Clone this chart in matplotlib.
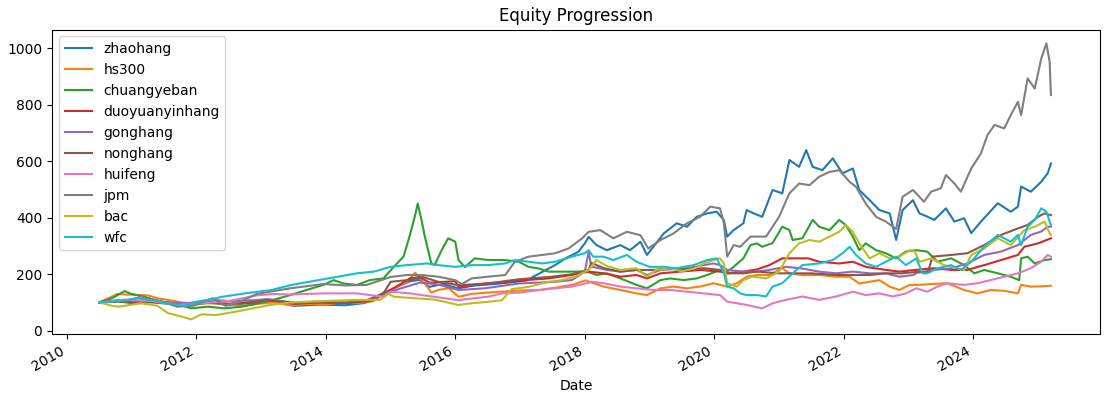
import matplotlib
matplotlib.use("Agg")
import matplotlib.pyplot as plt
import matplotlib.dates as mdates
import pandas as pd
import numpy as np

# ---- data (decimal year, value) ----
zhaohang_t = [2010.5, 2010.8, 2011.0, 2011.3, 2011.6, 2011.9, 2012.2, 2012.5, 2012.9, 2013.1, 2013.5, 2013.9, 2014.3, 2014.6, 2014.9, 2015.3, 2015.45, 2015.6, 2015.8, 2016.05, 2016.3, 2016.6, 2016.9, 2017.1, 2017.39, 2017.54, 2017.7, 2017.9, 2018.0, 2018.06, 2018.18, 2018.34, 2018.55, 2018.7, 2018.86, 2018.96, 2019.06, 2019.22, 2019.42, 2019.58, 2019.73, 2019.89, 2020.04, 2020.15, 2020.2, 2020.3, 2020.45, 2020.5, 2020.61, 2020.74, 2020.9, 2021.05, 2021.16, 2021.31, 2021.42, 2021.52, 2021.67, 2021.83, 2021.98, 2022.14, 2022.24, 2022.4, 2022.55, 2022.71, 2022.81, 2022.91, 2023.07, 2023.17, 2023.24, 2023.4, 2023.58, 2023.71, 2023.86, 2023.97, 2024.12, 2024.38, 2024.58, 2024.69, 2024.74, 2024.89, 2025.05, 2025.15, 2025.2]
zhaohang_v = [100, 105, 100, 105, 95, 90, 100, 90, 100, 108, 88, 92, 90, 98, 135, 175, 180, 155, 165, 150, 160, 165, 172, 178, 214, 232, 256, 279, 309, 332, 303, 285, 303, 285, 315, 268, 297, 344, 380, 368, 403, 415, 421, 391, 333, 356, 380, 427, 415, 403, 498, 486, 604, 580, 639, 580, 568, 610, 557, 574, 498, 462, 427, 415, 321, 427, 462, 415, 409, 392, 433, 386, 398, 345, 386, 451, 421, 439, 510, 492, 527, 557, 592]

hs300_t = [2010.5, 2010.78, 2010.89, 2011.25, 2011.4, 2011.66, 2011.92, 2012.18, 2012.45, 2012.7, 2012.95, 2013.2, 2013.45, 2013.7, 2014.0, 2014.22, 2014.5, 2014.74, 2014.94, 2015.25, 2015.38, 2015.53, 2015.63, 2015.75, 2015.9, 2016.05, 2016.25, 2016.5, 2016.98, 2017.29, 2017.54, 2017.8, 2018.01, 2018.29, 2018.55, 2018.8, 2018.96, 2019.17, 2019.37, 2019.58, 2019.78, 2019.99, 2020.2, 2020.35, 2020.5, 2020.66, 2020.85, 2021.05, 2021.16, 2021.36, 2021.62, 2021.88, 2022.09, 2022.24, 2022.4, 2022.55, 2022.71, 2022.86, 2023.02, 2023.14, 2023.35, 2023.6, 2023.86, 2024.07, 2024.27, 2024.48, 2024.69, 2024.74, 2024.89, 2025.05, 2025.2]
hs300_v = [100, 130, 128, 125, 115, 105, 92, 97, 95, 88, 95, 100, 90, 95, 92, 100, 98, 105, 138, 173, 205, 167, 135, 145, 150, 120, 130, 135, 142, 144, 152, 162, 178, 156, 144, 132, 126, 150, 156, 150, 156, 168, 156, 168, 191, 197, 197, 221, 203, 197, 197, 191, 191, 167, 173, 179, 156, 144, 162, 162, 165, 168, 144, 132, 144, 141, 132, 162, 156, 157, 159]

chuangyeban_t = [2010.5, 2010.7, 2010.89, 2011.0, 2011.2, 2011.4, 2011.66, 2011.92, 2012.18, 2012.43, 2012.7, 2012.93, 2013.2, 2013.45, 2013.7, 2013.96, 2014.12, 2014.27, 2014.48, 2014.68, 2014.89, 2015.05, 2015.2, 2015.3, 2015.38, 2015.42, 2015.48, 2015.53, 2015.58, 2015.63, 2015.68, 2015.79, 2015.89, 2016.0, 2016.05, 2016.15, 2016.3, 2016.51, 2016.77, 2016.98, 2017.13, 2017.29, 2017.44, 2017.65, 2017.85, 2018.03, 2018.18, 2018.34, 2018.55, 2018.8, 2018.96, 2019.17, 2019.32, 2019.53, 2019.73, 2019.89, 2020.09, 2020.2, 2020.3, 2020.45, 2020.56, 2020.66, 2020.74, 2020.9, 2021.05, 2021.16, 2021.21, 2021.36, 2021.52, 2021.62, 2021.78, 2021.93, 2022.03, 2022.14, 2022.24, 2022.34, 2022.5, 2022.65, 2022.81, 2022.96, 2023.12, 2023.29, 2023.45, 2023.66, 2023.86, 2024.02, 2024.17, 2024.38, 2024.58, 2024.71, 2024.74, 2024.84, 2024.95, 2025.1, 2025.2]
chuangyeban_v = [100, 115, 140, 130, 120, 105, 97, 79, 85, 79, 85, 95, 110, 126, 144, 162, 179, 167, 162, 179, 185, 226, 262, 339, 409, 450, 390, 333, 285, 238, 232, 285, 327, 315, 250, 225, 256, 250, 250, 244, 226, 220, 209, 209, 209, 210, 197, 203, 185, 162, 150, 179, 185, 179, 185, 197, 215, 209, 226, 256, 303, 309, 297, 310, 368, 356, 321, 327, 392, 368, 356, 392, 374, 333, 285, 309, 285, 274, 256, 280, 285, 280, 244, 256, 232, 203, 215, 203, 191, 179, 256, 262, 238, 250, 253]

duoyuanyinhang_t = [2010.5, 2010.8, 2011.0, 2011.3, 2011.6, 2011.9, 2012.2, 2012.5, 2012.9, 2013.1, 2013.5, 2013.9, 2014.3, 2014.7, 2015.0, 2015.3, 2015.45, 2015.6, 2016.0, 2016.05, 2016.25, 2016.46, 2016.98, 2017.44, 2017.8, 2018.06, 2018.3, 2018.55, 2018.8, 2018.96, 2019.17, 2019.47, 2019.78, 2020.09, 2020.2, 2020.45, 2020.66, 2020.85, 2021.05, 2021.26, 2021.45, 2021.62, 2021.93, 2022.14, 2022.34, 2022.65, 2022.86, 2023.1, 2023.4, 2023.66, 2023.91, 2024.17, 2024.43, 2024.69, 2024.79, 2025.0, 2025.2]
duoyuanyinhang_v = [100, 108, 100, 105, 98, 92, 100, 95, 100, 110, 95, 100, 98, 105, 144, 185, 190, 170, 175, 156, 161, 167, 177, 185, 197, 209, 203, 191, 197, 185, 203, 209, 215, 209, 203, 209, 217, 232, 256, 256, 256, 244, 238, 244, 226, 215, 209, 215, 221, 215, 215, 232, 250, 268, 297, 309, 327]

gonghang_t = [2010.5, 2010.8, 2011.0, 2011.3, 2011.6, 2011.9, 2012.2, 2012.5, 2012.9, 2013.1, 2013.5, 2013.9, 2014.3, 2014.7, 2015.0, 2015.25, 2015.45, 2015.7, 2016.05, 2016.46, 2016.98, 2017.54, 2017.8, 2018.0, 2018.06, 2018.1, 2018.34, 2018.55, 2018.8, 2018.96, 2019.17, 2019.58, 2019.84, 2019.99, 2020.09, 2020.2, 2020.45, 2020.66, 2020.85, 2021.1, 2021.36, 2021.62, 2021.88, 2022.14, 2022.4, 2022.65, 2022.86, 2023.07, 2023.14, 2023.4, 2023.66, 2023.91, 2024.17, 2024.43, 2024.69, 2024.89, 2025.05, 2025.15, 2025.2]
gonghang_v = [100, 105, 100, 103, 100, 98, 110, 105, 108, 112, 100, 103, 100, 110, 138, 156, 170, 165, 144, 150, 167, 173, 179, 209, 279, 227, 215, 209, 215, 197, 215, 221, 232, 238, 232, 215, 209, 209, 215, 226, 220, 209, 203, 209, 203, 203, 191, 197, 205, 215, 221, 238, 268, 280, 303, 339, 351, 368, 368]

nonghang_t = [2010.5, 2010.8, 2011.0, 2011.3, 2011.6, 2011.9, 2012.2, 2012.5, 2012.9, 2013.1, 2013.5, 2013.9, 2014.3, 2014.6, 2014.89, 2015.0, 2015.3, 2015.5, 2015.74, 2016.05, 2016.5, 2016.98, 2017.5, 2017.8, 2018.06, 2018.1, 2018.3, 2018.55, 2018.8, 2019.06, 2019.32, 2019.6, 2019.84, 2020.09, 2020.2, 2020.45, 2020.66, 2021.0, 2021.5, 2021.88, 2022.14, 2022.4, 2022.65, 2022.9, 2023.17, 2023.3, 2023.37, 2023.66, 2023.91, 2024.17, 2024.43, 2024.69, 2024.84, 2025.0, 2025.1, 2025.2]
nonghang_v = [100, 103, 98, 100, 95, 92, 100, 95, 102, 108, 98, 100, 98, 105, 132, 173, 180, 190, 173, 161, 167, 182, 191, 200, 215, 240, 221, 209, 215, 215, 221, 218, 221, 215, 203, 203, 209, 203, 203, 197, 197, 197, 203, 203, 209, 205, 262, 268, 274, 303, 339, 362, 374, 403, 415, 409]

huifeng_t = [2010.5, 2010.9, 2011.3, 2011.7, 2012.0, 2012.5, 2012.93, 2013.2, 2013.45, 2013.96, 2014.48, 2014.9, 2015.0, 2015.3, 2015.68, 2016.05, 2016.3, 2016.5, 2016.72, 2017.0, 2017.3, 2017.54, 2017.8, 2018.01, 2018.11, 2018.29, 2018.55, 2018.8, 2019.06, 2019.32, 2019.58, 2019.84, 2020.09, 2020.2, 2020.35, 2020.5, 2020.74, 2020.9, 2021.1, 2021.36, 2021.62, 2021.88, 2022.14, 2022.34, 2022.55, 2022.76, 2022.96, 2023.12, 2023.29, 2023.45, 2023.6, 2023.86, 2024.07, 2024.27, 2024.48, 2024.69, 2024.89, 2025.05, 2025.15, 2025.2]
huifeng_v = [100, 110, 105, 92, 95, 105, 125, 130, 128, 132, 132, 120, 138, 132, 120, 108, 115, 120, 132, 135, 144, 150, 156, 167, 173, 168, 156, 150, 144, 144, 138, 132, 126, 103, 97, 91, 79, 97, 109, 121, 109, 121, 138, 126, 132, 121, 132, 150, 138, 156, 168, 162, 168, 179, 191, 203, 221, 244, 268, 262]

jpm_t = [2010.5, 2010.9, 2011.15, 2011.45, 2011.7, 2011.95, 2012.25, 2012.45, 2012.7, 2012.93, 2013.45, 2013.96, 2014.3, 2014.63, 2015.0, 2015.25, 2015.48, 2015.74, 2016.0, 2016.1, 2016.25, 2016.5, 2016.77, 2016.92, 2017.13, 2017.34, 2017.54, 2017.75, 2017.96, 2018.06, 2018.24, 2018.44, 2018.65, 2018.86, 2018.98, 2019.17, 2019.37, 2019.58, 2019.78, 2019.94, 2020.09, 2020.15, 2020.2, 2020.3, 2020.4, 2020.56, 2020.8, 2021.0, 2021.16, 2021.31, 2021.47, 2021.62, 2021.78, 2021.93, 2022.09, 2022.19, 2022.34, 2022.5, 2022.65, 2022.81, 2022.91, 2023.07, 2023.17, 2023.24, 2023.35, 2023.5, 2023.58, 2023.71, 2023.81, 2023.97, 2024.12, 2024.22, 2024.33, 2024.48, 2024.58, 2024.69, 2024.74, 2024.84, 2024.95, 2025.05, 2025.13, 2025.18, 2025.2]
jpm_v = [100, 105, 120, 105, 85, 88, 115, 88, 105, 130, 150, 165, 160, 162, 190, 197, 197, 191, 179, 165, 185, 191, 197, 244, 262, 268, 274, 291, 327, 350, 356, 327, 350, 338, 291, 321, 344, 380, 403, 439, 433, 380, 262, 303, 297, 333, 333, 403, 486, 521, 515, 545, 562, 568, 527, 509, 450, 403, 386, 360, 474, 498, 474, 456, 492, 504, 551, 521, 492, 574, 627, 692, 728, 716, 763, 810, 763, 893, 857, 963, 1017, 952, 834]

bac_t = [2010.5, 2010.7, 2010.8, 2011.15, 2011.4, 2011.56, 2011.77, 2011.92, 2012.08, 2012.3, 2012.6, 2012.85, 2013.16, 2013.47, 2013.96, 2014.48, 2014.84, 2014.96, 2015.06, 2015.43, 2015.68, 2016.05, 2016.25, 2016.5, 2016.72, 2016.87, 2017.13, 2017.44, 2017.65, 2017.85, 2018.06, 2018.18, 2018.34, 2018.55, 2018.8, 2018.96, 2019.1, 2019.32, 2019.5, 2019.7, 2019.84, 2019.99, 2020.09, 2020.15, 2020.2, 2020.35, 2020.45, 2020.59, 2020.8, 2021.0, 2021.16, 2021.31, 2021.47, 2021.62, 2021.78, 2021.93, 2022.03, 2022.14, 2022.24, 2022.4, 2022.55, 2022.71, 2022.86, 2023.02, 2023.1, 2023.17, 2023.35, 2023.55, 2023.76, 2023.86, 2023.97, 2024.17, 2024.38, 2024.58, 2024.79, 2024.95, 2025.1, 2025.18, 2025.2]
bac_v = [100, 88, 85, 97, 88, 62, 50, 40, 58, 55, 67, 78, 92, 100, 105, 109, 109, 130, 120, 114, 110, 91, 97, 102, 108, 147, 155, 173, 179, 191, 215, 250, 229, 215, 221, 191, 215, 221, 210, 221, 238, 250, 256, 238, 168, 156, 179, 191, 185, 209, 274, 309, 321, 315, 333, 350, 374, 350, 309, 256, 274, 256, 262, 285, 280, 244, 256, 232, 221, 215, 268, 291, 327, 303, 356, 368, 386, 345, 339]

wfc_t = [2010.5, 2010.9, 2011.1, 2011.4, 2011.6, 2011.8, 2012.0, 2012.4, 2012.75, 2013.16, 2013.47, 2013.89, 2014.48, 2014.74, 2015.0, 2015.25, 2015.56, 2015.74, 2016.0, 2016.25, 2016.5, 2016.77, 2016.92, 2017.13, 2017.34, 2017.54, 2017.8, 2018.0, 2018.06, 2018.13, 2018.29, 2018.44, 2018.65, 2018.8, 2019.0, 2019.22, 2019.42, 2019.68, 2019.89, 2020.04, 2020.15, 2020.2, 2020.3, 2020.4, 2020.5, 2020.66, 2020.8, 2020.9, 2021.05, 2021.21, 2021.36, 2021.62, 2021.83, 2021.98, 2022.09, 2022.19, 2022.34, 2022.5, 2022.65, 2022.81, 2022.96, 2023.12, 2023.22, 2023.29, 2023.45, 2023.66, 2023.81, 2023.97, 2024.17, 2024.38, 2024.58, 2024.69, 2024.74, 2024.84, 2024.95, 2025.05, 2025.13, 2025.18, 2025.2]
wfc_v = [100, 108, 115, 105, 95, 88, 100, 120, 132, 144, 162, 179, 203, 209, 226, 232, 238, 232, 226, 232, 232, 238, 250, 244, 238, 244, 262, 274, 285, 262, 262, 250, 268, 244, 226, 226, 221, 232, 250, 256, 203, 156, 150, 132, 126, 126, 121, 156, 168, 203, 232, 238, 250, 274, 297, 268, 238, 226, 244, 262, 232, 256, 203, 203, 221, 232, 215, 244, 297, 339, 315, 339, 303, 368, 392, 433, 421, 386, 374]

series_names = ["zhaohang", "hs300", "chuangyeban", "duoyuanyinhang", "gonghang",
                "nonghang", "huifeng", "jpm", "bac", "wfc"]
series_data = [(zhaohang_t, zhaohang_v), (hs300_t, hs300_v), (chuangyeban_t, chuangyeban_v),
               (duoyuanyinhang_t, duoyuanyinhang_v), (gonghang_t, gonghang_v),
               (nonghang_t, nonghang_v), (huifeng_t, huifeng_v), (jpm_t, jpm_v),
               (bac_t, bac_v), (wfc_t, wfc_v)]


def to_dates(years):
    out = []
    for y in years:
        yi = int(np.floor(y))
        start = pd.Timestamp(year=yi, month=1, day=1)
        end = pd.Timestamp(year=yi + 1, month=1, day=1)
        out.append(start + (end - start) * (y - yi))
    return out


fig = plt.figure(figsize=(11.12, 3.96), dpi=100)
ax = fig.add_axes([0.0468, 0.1566, 0.9425, 0.7689])

for name, (t, v) in zip(series_names, series_data):
    ax.plot(to_dates(t), v, label=name, linewidth=1.5)

ax.set_title("Equity Progression")
ax.set_xlabel("Date")
ax.xaxis.set_major_locator(mdates.YearLocator(2))
ax.xaxis.set_major_formatter(mdates.DateFormatter("%Y"))
ax.set_xlim(to_dates([2009.77])[0], to_dates([2025.96])[0])
ax.set_ylim(-11.7, 1066)
for lbl in ax.get_xticklabels():
    lbl.set_rotation(30)
    lbl.set_ha("right")
ax.legend(loc="upper left")

fig.savefig("out.png", dpi=100)
